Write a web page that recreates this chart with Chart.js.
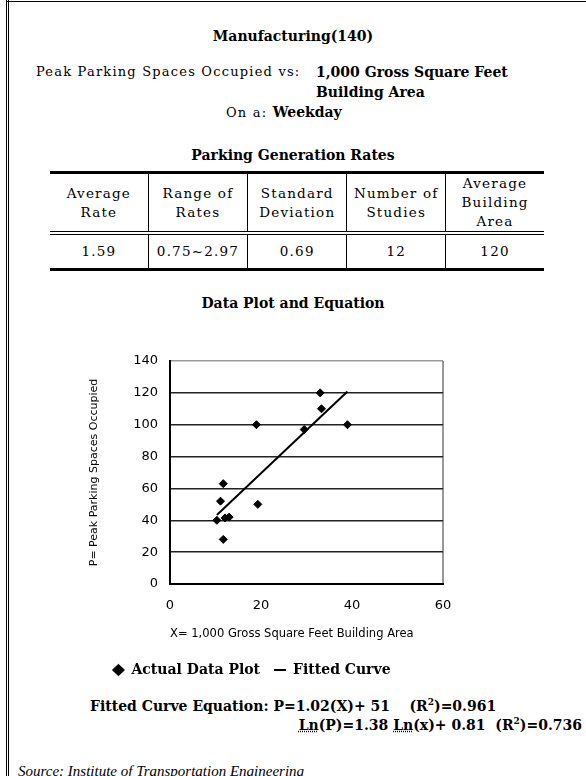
<!DOCTYPE html>
<html>
<head>
<meta charset="utf-8">
<script src="https://cdn.jsdelivr.net/npm/chart.js@4.4.0/dist/chart.umd.min.js"></script>
<style>
  body { margin: 0; width: 586px; height: 776px; overflow: hidden; background: #fff; color: #000; position: relative; }
  .frameLeft { position: absolute; left: 6px; top: 0; height: 776px; border-left: 3px double #000; }
  .frameTop { position: absolute; left: 6px; top: 1px; width: 580px; border-top: 1px solid #000; }
  .t { position: absolute; white-space: nowrap; line-height: 16px; }
  .b { font-family: "DejaVu Serif", serif; font-weight: bold; font-size: 14px; }
  .m { font-family: "DejaVu Serif", serif; font-size: 13px; letter-spacing: 1.2px; }
  .c { left: 0; width: 586px; text-align: center; }
  #rates { position: absolute; left: 50px; top: 171px; width: 494px; border-collapse: collapse;
           font-family: "DejaVu Serif", serif; font-size: 13.5px; letter-spacing: 1.2px;
           border-top: 3px solid #000; border-bottom: 3px solid #000; }
  #rates td { border-left: 1px solid #000; text-align: center; padding: 0; line-height: 19px; width: 99px; }
  #rates td:first-child { border-left: none; }
  #rates tr.head td { height: 55px; border-bottom: 4px double #000; }
  #rates tr.vals td { height: 33px; }
  #plotBox { position: absolute; left: 60px; top: 340px; }
  .ln { text-decoration: underline dotted; }
</style>
</head>
<body>
<div class="frameLeft"></div>
<div class="frameTop"></div>

<div class="t b c" style="top:28px;">Manufacturing(140)</div>
<div class="t m" style="left:36px; top:64px;">Peak Parking Spaces Occupied vs:</div>
<div class="t b" style="left:316px; top:64px;">1,000 Gross Square Feet</div>
<div class="t b" style="left:316px; top:84px;">Building Area</div>
<div class="t" style="left:226px; top:104px;"><span class="m">On a: </span><span class="b">Weekday</span></div>
<div class="t b c" style="top:147px;">Parking Generation Rates</div>

<table id="rates"></table>

<div class="t b c" style="top:295px;">Data Plot and Equation</div>

<div id="plotBox"><canvas id="plotChart" width="460" height="350"></canvas></div>

<div class="t b" style="left:90px; top:694px;">Fitted Curve Equation: P=1.02(X)+ 51&nbsp;&nbsp;&nbsp; (R<sup style="font-size:9px;">2</sup>)=0.961</div>
<div class="t b" style="right:4px; top:713px;"><span class="ln">Ln</span>(P)=1.38 <span class="ln">Ln</span>(x)+ 0.81&nbsp; (R<sup style="font-size:9px;">2</sup>)=0.736</div>
<div class="t" style="left:18px; top:763px; font-family:'Liberation Serif', serif; font-style:italic; font-size:15px;">Source: Institute of Transportation Engineering</div>

<script>
// table of rates
const rateHeaders = [["Average", "Rate"], ["Range of", "Rates"], ["Standard", "Deviation"], ["Number of", "Studies"], ["Average", "Building", "Area"]];
const rateValues = ["1.59", "0.75~2.97", "0.69", "12", "120"];

// scatter points
const areaX = [11.7, 11.1, 10.3, 12.1, 13.0, 11.7, 19.0, 19.3, 29.5, 33.3, 33.0, 39.0];
const spacesY = [63, 52, 40, 41.5, 42, 28, 100, 50, 97, 110, 120, 100];

// fitted line end points
const fitX = [10.3, 39.0];
const fitY = [43.3, 120.8];

const xTitle = "X= 1,000 Gross Square Feet Building Area";
const yTitle = "P= Peak Parking Spaces Occupied";

let rates = document.getElementById("rates");
let headRow = document.createElement("tr");
headRow.className = "head";
for (i = 0; i < rateHeaders.length; i++) {
  let cell = document.createElement("td");
  cell.innerHTML = rateHeaders[i].join("<br>");
  headRow.appendChild(cell);
}
rates.appendChild(headRow);
let valRow = document.createElement("tr");
valRow.className = "vals";
for (i = 0; i < rateValues.length; i++) {
  let cell = document.createElement("td");
  cell.textContent = rateValues[i];
  valRow.appendChild(cell);
}
rates.appendChild(valRow);

let points = [];
for (i = 0; i < areaX.length; i++) {
  points.push({ x: areaX[i], y: spacesY[i] });
}
let fitLine = [];
for (i = 0; i < fitX.length; i++) {
  fitLine.push({ x: fitX[i], y: fitY[i] });
}

const tickFont = { family: "DejaVu Sans", size: 13 };

new Chart(document.getElementById("plotChart"), {
  type: "scatter",
  data: {
    datasets: [
      {
        label: "Actual Data Plot",
        data: points,
        pointStyle: "rectRot",
        pointRadius: 4,
        backgroundColor: "#000",
        borderColor: "#000",
      },
      {
        label: "Fitted Curve",
        data: fitLine,
        showLine: true,
        pointRadius: 0,
        pointStyle: "line",
        borderColor: "#000",
        backgroundColor: "#000",
        borderWidth: 2,
      },
    ],
  },
  options: {
    responsive: false,
    animation: false,
    layout: { padding: { top: 21, right: 77, bottom: 3, left: 0 } },
    plugins: {
      tooltip: { enabled: false },
      legend: {
        position: "bottom",
        labels: {
          usePointStyle: true,
          boxHeight: 8,
          pointStyleWidth: 12,
          padding: 14,
          color: "#000",
          font: { family: "DejaVu Serif", weight: "bold", size: 14 },
        },
      },
    },
    scales: {
      x: {
        min: 0,
        max: 60,
        ticks: { stepSize: 20, padding: 14, color: "#000", font: tickFont },
        grid: {
          drawTicks: false,
          lineWidth: 2,
          color: (c) => (c.tick && c.tick.value === 60 ? "#999" : "rgba(0,0,0,0)"),
        },
        border: { color: "#000", width: 2 },
        title: {
          display: true,
          text: xTitle + "        ",
          color: "#000",
          font: { family: "DejaVu Sans", size: 12 },
          padding: { top: 4, bottom: 8 },
        },
        afterFit: (scale) => { scale.height = 65; },
      },
      y: {
        min: 0,
        max: 140,
        ticks: { stepSize: 20, padding: 12, color: "#000", font: tickFont },
        grid: {
          drawTicks: false,
          lineWidth: 1.5,
          color: (c) => (c.tick && c.tick.value === 140 ? "#999" : "#222"),
        },
        border: { color: "#000", width: 2 },
        title: {
          display: true,
          text: yTitle,
          color: "#000",
          font: { family: "DejaVu Sans", size: 11 },
          padding: { top: 28 },
        },
        afterFit: (scale) => { scale.width = 110; },
      },
    },
  },
});
</script>
</body>
</html>
